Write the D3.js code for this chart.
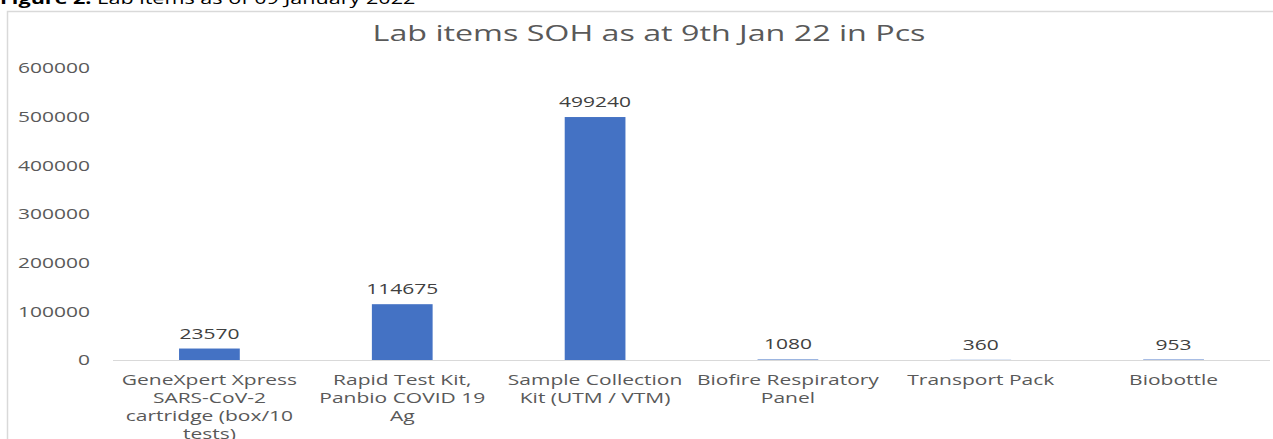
<!DOCTYPE html>
<html><head><meta charset="utf-8">
<script src="https://cdn.jsdelivr.net/npm/d3@7"></script>
<style>
html,body{margin:0;padding:0;background:#fff;}
svg{display:block;}
text{font-family:"Open Sans",sans-serif;}
</style></head>
<body>
<svg id="chart" width="1273" height="439"></svg>
<script>
const categories = [
  ["GeneXpert Xpress","SARS-CoV-2","cartridge (box/10","tests)"],
  ["Rapid Test Kit,","Panbio COVID 19","Ag"],
  ["Sample Collection","Kit (UTM / VTM)"],
  ["Biofire Respiratory","Panel"],
  ["Transport Pack"],
  ["Biobottle"]
];
const values = [23570, 114675, 499240, 1080, 360, 953];
const yTicks = [0, 100000, 200000, 300000, 400000, 500000, 600000];
const titleText = "Lab items SOH as at 9th Jan 22 in Pcs";
const captionBold = "Figure 2:";
const captionRest = " Lab items as of 09 January 2022";

const SX = 1.5;
const svg = d3.select("#chart");
const W = 1273, H = 439;
const m = {left:113, right:3, top:68, bottom:79};

// frame
svg.append("rect").attr("x",7.5).attr("y",11.5).attr("width",1300).attr("height",500)
  .attr("fill","none").attr("stroke","#d9d9d9").attr("stroke-width",1.5);

// caption (cropped at top)
const cap = svg.append("text").attr("transform",`translate(0,4) scale(1.35,1)`)
  .attr("font-family","Lato, sans-serif").attr("font-size",16).attr("fill","#000");
cap.append("tspan").attr("font-weight","bold").text(captionBold);
cap.append("tspan").text(captionRest);

const x = d3.scaleBand().domain(d3.range(values.length)).range([m.left, W-m.right]).paddingInner(0.685).paddingOuter(0.3425);
const y = d3.scaleLinear().domain([0,600000]).range([H-m.bottom, m.top]);

// title
svg.append("text").attr("transform",`translate(649,41) scale(${SX},1)`)
  .attr("text-anchor","middle").attr("font-size",21.5).attr("fill","#595959").text(titleText);

// y axis labels
const yAxis = d3.axisLeft(y).tickValues(yTicks).tickSize(0).tickPadding(0).tickFormat(d3.format("d"));
const ya = svg.append("g").attr("transform",`translate(90,0)`).call(yAxis);
ya.select(".domain").remove();
ya.selectAll("text").attr("font-family","Open Sans").attr("font-size",14).attr("fill","#595959")
  .attr("dy","0.35em").attr("transform",`scale(${SX},1)`).attr("x",0);

// baseline
svg.append("line").attr("x1",m.left).attr("x2",W-m.right).attr("y1",y(0)+0.5).attr("y2",y(0)+0.5)
  .attr("stroke","#d9d9d9").attr("stroke-width",1);

// bars
svg.selectAll("rect.bar").data(values).join("rect").attr("class","bar")
  .attr("x",(d,i)=>x(i)).attr("width",x.bandwidth())
  .attr("y",d=>y(d)).attr("height",d=>y(0)-y(d)).attr("fill","#4472C4");

// value labels
svg.selectAll("text.val").data(values).join("text").attr("class","val")
  .attr("transform",(d,i)=>`translate(${x(i)+x.bandwidth()/2},${y(d)-10}) scale(${SX},1)`)
  .attr("text-anchor","middle").attr("font-size",14).attr("fill","#404040").text(d=>d);

// category labels
const cl = svg.selectAll("text.cat").data(categories).join("text").attr("class","cat")
  .attr("transform",(d,i)=>`translate(${x(i)+x.bandwidth()/2},${y(0)+25}) scale(${SX},1)`)
  .attr("text-anchor","middle").attr("font-size",14).attr("fill","#595959");
cl.selectAll("tspan").data(d=>d).join("tspan").attr("x",0).attr("dy",(d,j)=>j===0?0:18).text(d=>d);
</script>
</body></html>
